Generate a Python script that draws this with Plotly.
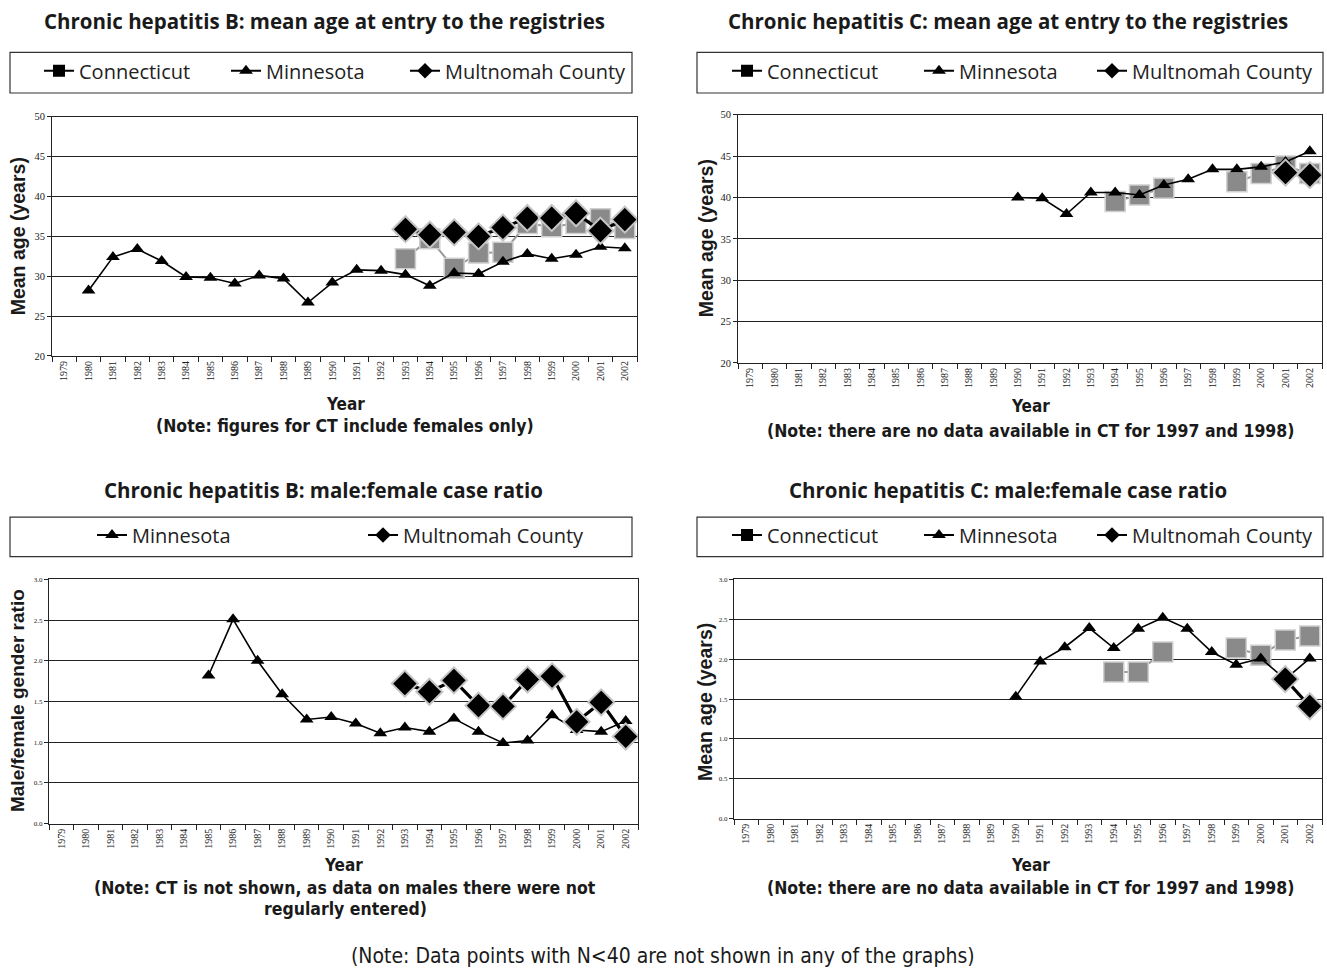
import plotly.graph_objects as go

W, H = 1327, 972

years = [str(y) for y in range(1979, 2003)]

# --- Panel 1: Chronic hepatitis B mean age ---
hb_age_mn = [None, 28.2, 32.4, 33.4, 31.9, 29.9, 29.8, 29.1, 30.1, 29.7, 26.7, 29.2,
             30.8, 30.7, 30.2, 28.8, 30.4, 30.3, 31.8, 32.8, 32.2, 32.7, 33.7, 33.5]
hb_age_ct = [None] * 14 + [32.2, 34.7, 31.0, 32.9, 33.0, 36.6, 36.2, 36.6, 37.2, 36.0]
hb_age_mc = [None] * 14 + [35.9, 35.2, 35.5, 35.0, 36.1, 37.3, 37.3, 37.9, 35.7, 37.1]

# --- Panel 2: Chronic hepatitis C mean age ---
hc_age_mn = [None] * 11 + [40.0, 39.9, 38.0, 40.6, 40.6, 40.3, 41.5, 42.2, 43.4, 43.4,
                           43.7, 44.3, 45.6]
hc_age_ct = [None] * 15 + [39.5, 40.3, 41.1, None, None, 41.9, 42.9, 43.8, 42.9]
hc_age_mc = [None] * 22 + [43.0, 42.7]

# --- Panel 3: Chronic hepatitis B male:female ratio ---
hb_ratio_mn = [None] * 6 + [1.82, 2.51, 2.00, 1.59, 1.28, 1.31, 1.23, 1.11, 1.18, 1.13,
                            1.29, 1.13, 0.99, 1.02, 1.33, 1.15, 1.13, 1.26]
hb_ratio_mc = [None] * 14 + [1.72, 1.62, 1.76, 1.45, 1.44, 1.77, 1.81, 1.25, 1.49, 1.07]

# --- Panel 4: Chronic hepatitis C male:female ratio ---
hc_ratio_mn = [None] * 11 + [1.53, 1.97, 2.15, 2.39, 2.14, 2.38, 2.52, 2.38, 2.09, 1.93,
                             2.01, 1.75, 2.01]
hc_ratio_ct = [None] * 15 + [1.84, 1.84, 2.09, None, None, 2.14, 2.05, 2.24, 2.29]
hc_ratio_mc = [None] * 22 + [1.75, 1.41]

age_ticks = [20, 25, 30, 35, 40, 45, 50]
ratio_ticks = [0.0, 0.5, 1.0, 1.5, 2.0, 2.5, 3.0]
ratio_ticktext = ["0.0", "0.5", "1.0", "1.5", "2.0", "2.5", "3.0"]

TITLE_FONT = "Open Sans, Lato, sans-serif"
NARROW = "DejaVu Sans Condensed, Liberation Sans Narrow, Arial Narrow, sans-serif"
SERIF = "Liberation Serif, Times New Roman, serif"
AXT = "Liberation Sans, Arial, sans-serif"


def px(x):
    return x / W


def py(y):
    return 1 - y / H


fig = go.Figure()

# panels: (x0, x1, ytop, ybottom) in pixels
panels = {
    1: (52, 637, 113, 355),
    2: (738, 1322, 111, 362),
    3: (49, 638, 581, 828),
    4: (734, 1322, 581, 823),
}

ct_style = dict(mode="lines+markers",
                line=dict(color="#9a9a9a", width=2),
                marker=dict(symbol="square", size=20, color="#8a8a8a",
                            line=dict(color="#cfcfcf", width=1.5)))
mn_style = dict(mode="lines+markers",
                line=dict(color="black", width=1.6),
                marker=dict(symbol="triangle-up", size=12, color="black"))
mc_style = dict(mode="lines+markers",
                line=dict(color="black", width=3.2),
                marker=dict(symbol="diamond", size=20, color="black",
                            line=dict(color="#c4c4c4", width=2)))

series = {
    1: [("Connecticut", hb_age_ct, ct_style), ("Minnesota", hb_age_mn, mn_style),
        ("Multnomah County", hb_age_mc, mc_style)],
    2: [("Connecticut", hc_age_ct, ct_style), ("Minnesota", hc_age_mn, mn_style),
        ("Multnomah County", hc_age_mc, mc_style)],
    3: [("Minnesota", hb_ratio_mn, mn_style), ("Multnomah County", hb_ratio_mc, mc_style)],
    4: [("Connecticut", hc_ratio_ct, ct_style), ("Minnesota", hc_ratio_mn, mn_style),
        ("Multnomah County", hc_ratio_mc, mc_style)],
}

legend_names = {1: "legend", 2: "legend2", 3: "legend3", 4: "legend4"}

for k, lst in series.items():
    xa = "x" if k == 1 else f"x{k}"
    ya = "y" if k == 1 else f"y{k}"
    for name, vals, style in lst:
        fig.add_trace(go.Scatter(x=years, y=vals, name=name, xaxis=xa, yaxis=ya,
                                 showlegend=False, connectgaps=False, **style,
                                 hoverinfo="x+y+name"))

# legend-only entries (black symbols as in the original legends)
leg_sym = {"Connecticut": "square", "Minnesota": "triangle-up",
           "Multnomah County": "diamond"}
leg_widths = {
    1: {"Connecticut": 142, "Minnesota": 134, "Multnomah County": 190},
    2: {"Connecticut": 147, "Minnesota": 128, "Multnomah County": 190},
    3: {"Minnesota": 226, "Multnomah County": 190},
    4: {"Connecticut": 147, "Minnesota": 128, "Multnomah County": 190},
}
for k, lst in series.items():
    xa = "x" if k == 1 else f"x{k}"
    ya = "y" if k == 1 else f"y{k}"
    for name, vals, style in lst:
        fig.add_trace(go.Scatter(x=[None], y=[None], name=name, xaxis=xa, yaxis=ya,
                                 mode="lines+markers", legend=legend_names[k],
                                 legendwidth=leg_widths[k][name],
                                 line=dict(color="black", width=2),
                                 marker=dict(symbol=leg_sym[name], size=12, color="black"),
                                 showlegend=True))

layout = dict(
    width=W, height=H, margin=dict(l=0, r=0, t=0, b=0),
    paper_bgcolor="white", plot_bgcolor="white",
    showlegend=True,
)

for k, (x0, x1, yt, yb) in panels.items():
    xs = "xaxis" if k == 1 else f"xaxis{k}"
    ys = "yaxis" if k == 1 else f"yaxis{k}"
    ya = "y" if k == 1 else f"y{k}"
    xa = "x" if k == 1 else f"x{k}"
    layout[xs] = dict(
        domain=[px(x0), px(x1)], anchor=ya, type="category",
        categoryorder="array", categoryarray=years,
        range=[-0.5, len(years) - 0.5], autorange=False,
        tickson="boundaries", ticks="outside", ticklen=5, tickcolor="#222",
        tickangle=-90, tickfont=dict(family=SERIF, size=10, color="#222"),
        showline=True, linecolor="#222", linewidth=1, mirror=True,
        showgrid=False, zeroline=False, fixedrange=True,
    )
    if k in (1, 2):
        yax = dict(range=[20, 50], tickvals=age_ticks,
                   tickfont=dict(family=SERIF, size=10.5, color="#222"))
    else:
        yax = dict(range=[0, 3], tickvals=ratio_ticks, ticktext=ratio_ticktext,
                   tickfont=dict(family=SERIF, size=7, color="#222"))
    yax.update(
        domain=[py(yb), py(yt)], anchor=xa, ticks="outside", ticklen=4,
        tickcolor="#222", showline=True, linecolor="#222", linewidth=1,
        mirror=True, showgrid=True, gridcolor="#222", gridwidth=1,
        zeroline=False, fixedrange=True, autorange=False,
    )
    layout[ys] = yax

legend_common = dict(orientation="h", bgcolor="rgba(0,0,0,0)", borderwidth=0,
                     font=dict(family=TITLE_FONT, size=20, color="#222"),
                     xanchor="left", yanchor="middle", itemclick=False,
                     itemdoubleclick=False)
layout["legend"] = dict(legend_common, x=px(39), y=py(66.5))
layout["legend2"] = dict(legend_common, x=px(727), y=py(66.5))
layout["legend3"] = dict(legend_common, x=px(92), y=py(536))
layout["legend4"] = dict(legend_common, x=px(727), y=py(536))

fig.update_layout(**layout)

# legend boxes
for (x0, y0, x1, y1) in [(10, 48, 632, 89), (697, 48, 1323, 89),
                         (10, 518, 632, 558), (697, 518, 1323, 558)]:
    fig.add_shape(type="rect", xref="paper", yref="paper",
                  x0=px(x0), x1=px(x1), y0=py(y1), y1=py(y0),
                  line=dict(color="#333", width=1.2), fillcolor="rgba(0,0,0,0)")

annotations = []


def ann(text, x, y, size, family=TITLE_FONT, bold=True, angle=0, color="#1a1a1a"):
    t = f"<b>{text}</b>" if bold else text
    annotations.append(dict(text=t, x=px(x), y=py(y), xref="paper", yref="paper",
                            showarrow=False, xanchor="center", yanchor="middle",
                            textangle=angle,
                            font=dict(family=family, size=size, color=color)))


ann("Chronic hepatitis B: mean age at entry to the registries", 324, 16, 20.5)
ann("Chronic hepatitis C: mean age at entry to the registries", 1008, 16, 20.5)
ann("Chronic hepatitis B: male:female case ratio", 323, 491, 20.5)
ann("Chronic hepatitis C: male:female case ratio", 1008, 491, 20.5)

ann("Mean age (years)", 18, 234, 19.5, family=AXT, angle=-90)
ann("Mean age (years)", 706, 236, 19.5, family=AXT, angle=-90)
ann("Male/female gender ratio", 17, 704, 19, family=AXT, angle=-90)
ann("Mean age (years)", 705, 705, 19.5, family=AXT, angle=-90)

ann("Year", 345, 404, 17, family=NARROW)
ann("Year", 1030, 406, 17, family=NARROW)
ann("Year", 343, 870, 17, family=NARROW)
ann("Year", 1030, 870, 17, family=NARROW)

ann("(Note: figures for CT include females only)", 345, 426, 17.5, family=NARROW)
ann("(Note: there are no data available in CT for 1997 and 1998)", 1030, 431, 17.5, family=NARROW)
ann("(Note: CT is not shown, as data on males there were not", 345, 893, 17.5, family=NARROW)
ann("regularly entered)", 345, 914, 17.5, family=NARROW)
ann("(Note: there are no data available in CT for 1997 and 1998)", 1030, 893, 17.5, family=NARROW)

ann("(Note: Data points with N<40 are not shown in any of the graphs)", 663, 962, 21,
    family=NARROW, bold=False)

fig.update_layout(annotations=annotations)

fig.write_html("out.html",
               config={"displayModeBar": False},
               post_script="document.body.style.margin='0';"
                           "document.body.style.overflow='hidden';")
